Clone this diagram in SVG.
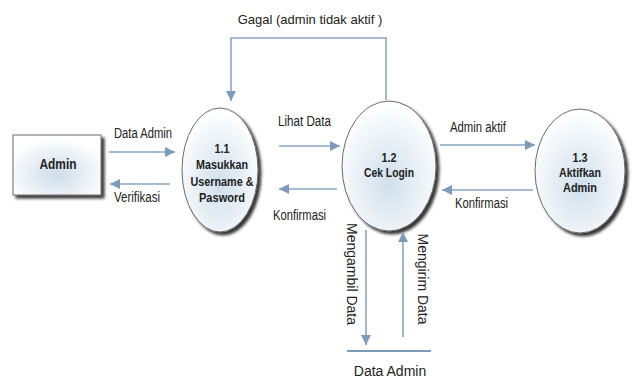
<svg xmlns="http://www.w3.org/2000/svg" width="632" height="383" viewBox="0 0 632 383">
<defs>
<radialGradient id="eg" cx="0.5" cy="0.62" r="0.6">
<stop offset="0" stop-color="#cfdfec"/>
<stop offset="1" stop-color="#ffffff"/>
</radialGradient>
<radialGradient id="rg" cx="0.5" cy="0.65" r="0.6">
<stop offset="0" stop-color="#cddcea"/>
<stop offset="1" stop-color="#ffffff"/>
</radialGradient>
<filter id="sh" x="-20%" y="-20%" width="150%" height="150%">
<feGaussianBlur in="SourceAlpha" stdDeviation="1.5"/>
<feOffset dx="3" dy="3" result="b"/>
<feComponentTransfer><feFuncA type="linear" slope="0.8"/></feComponentTransfer>
<feMerge><feMergeNode/><feMergeNode in="SourceGraphic"/></feMerge>
</filter>
<marker id="ah" viewBox="0 0 10 10" refX="10" refY="5" markerWidth="10" markerHeight="10" markerUnits="userSpaceOnUse" orient="auto">
<path d="M0,0 L10,5 L0,10 z" fill="#7d9bb8"/>
</marker>
</defs>
<style>
.ln{stroke:#8aa6c1;stroke-width:1.6;fill:none}
.nd{stroke:#6b6b6b;stroke-width:1}
.nt{font-family:"Liberation Sans",Arial,sans-serif;font-weight:bold;font-size:13.5px;fill:#222;text-anchor:middle}
.lb{font-family:"Liberation Sans",Arial,sans-serif;font-size:14px;fill:#222}
.lr{font-family:"Liberation Sans",Arial,sans-serif;font-size:13px;fill:#222}
</style>
<rect width="632" height="383" fill="#ffffff"/>
<g id="admin">
<rect x="13" y="135" width="88" height="60" fill="url(#rg)" class="nd" filter="url(#sh)"/>
<text x="58" y="169" class="nt" style="font-size:14px" textLength="37" lengthAdjust="spacingAndGlyphs">Admin</text>
</g>
<g id="p11">
<ellipse cx="220" cy="170" rx="38" ry="62" fill="url(#eg)" class="nd" filter="url(#sh)"/>
<text x="222" y="153" class="nt" textLength="15" lengthAdjust="spacingAndGlyphs">1.1</text>
<text x="222" y="169" class="nt" textLength="52" lengthAdjust="spacingAndGlyphs">Masukkan</text>
<text x="222" y="186" class="nt" textLength="63" lengthAdjust="spacingAndGlyphs">Username &amp;</text>
<text x="222" y="202" class="nt" textLength="46" lengthAdjust="spacingAndGlyphs">Pasword</text>
</g>
<g id="p12">
<ellipse cx="389" cy="166" rx="47" ry="65" fill="url(#eg)" class="nd" filter="url(#sh)"/>
<text x="389" y="162" class="nt" textLength="15" lengthAdjust="spacingAndGlyphs">1.2</text>
<text x="389" y="177" class="nt" textLength="50" lengthAdjust="spacingAndGlyphs">Cek Login</text>
</g>
<g id="p13">
<ellipse cx="580" cy="171" rx="45" ry="62" fill="url(#eg)" class="nd" filter="url(#sh)"/>
<text x="580" y="162" class="nt" textLength="15" lengthAdjust="spacingAndGlyphs">1.3</text>
<text x="580" y="177" class="nt" textLength="42" lengthAdjust="spacingAndGlyphs">Aktifkan</text>
<text x="580" y="192" class="nt" textLength="34" lengthAdjust="spacingAndGlyphs">Admin</text>
</g>
<g id="store">
<line x1="347" y1="351" x2="431" y2="351" stroke="#7d9bb8" stroke-width="2"/>
<text x="390" y="376" class="lb" text-anchor="middle">Data Admin</text>
</g>
<g id="connectors">
<line class="ln" x1="109" y1="152" x2="175" y2="152" marker-end="url(#ah)"/>
<text x="114" y="138" class="lb" textLength="58" lengthAdjust="spacingAndGlyphs">Data Admin</text>
<line class="ln" x1="170" y1="184" x2="110" y2="184" marker-end="url(#ah)"/>
<text x="114" y="202" class="lb" textLength="46" lengthAdjust="spacingAndGlyphs">Verifikasi</text>
<line class="ln" x1="279" y1="146" x2="340" y2="146" marker-end="url(#ah)"/>
<text x="278" y="126" class="lb" textLength="53" lengthAdjust="spacingAndGlyphs">Lihat Data</text>
<line class="ln" x1="337" y1="189" x2="279" y2="189" marker-end="url(#ah)"/>
<text x="273" y="220" class="lb" textLength="53" lengthAdjust="spacingAndGlyphs">Konfirmasi</text>
<line class="ln" x1="440" y1="145" x2="535" y2="145" marker-end="url(#ah)"/>
<text x="450" y="132" class="lb" textLength="56" lengthAdjust="spacingAndGlyphs">Admin aktif</text>
<line class="ln" x1="533" y1="190" x2="442" y2="190" marker-end="url(#ah)"/>
<text x="455" y="208" class="lb" textLength="53" lengthAdjust="spacingAndGlyphs">Konfirmasi</text>
<polyline class="ln" points="386,100 386,38 231,38 231,101" marker-end="url(#ah)"/>
<text x="310" y="24" class="lr" text-anchor="middle">Gagal (admin tidak aktif )</text>
<line class="ln" x1="366" y1="230" x2="366" y2="345" marker-end="url(#ah)"/>
<text class="lb" text-anchor="middle" transform="translate(347,274) rotate(90)">Mengambil Data</text>
<line class="ln" x1="403" y1="337" x2="403" y2="232" marker-end="url(#ah)"/>
<text class="lb" text-anchor="middle" transform="translate(418,279) rotate(90)">Mengirim Data</text>
</g>
</svg>
